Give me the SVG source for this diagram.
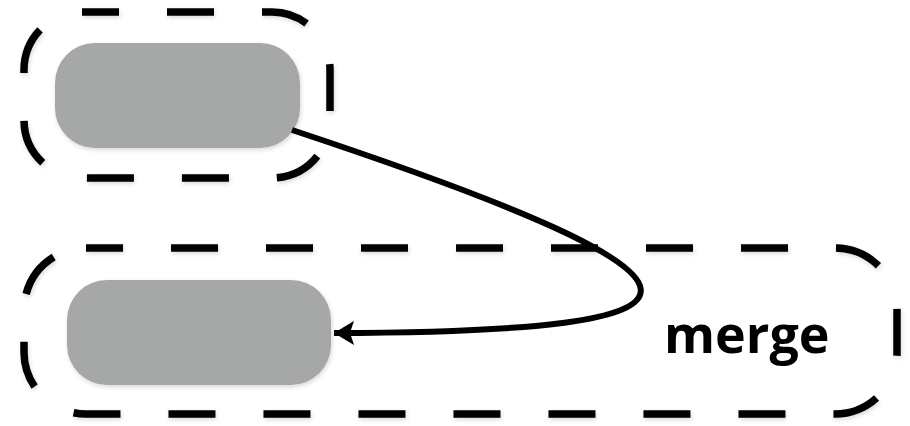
<svg xmlns="http://www.w3.org/2000/svg" width="910" height="426" viewBox="0 0 910 426">
<style>
.grp{fill:none;stroke:#000;stroke-width:7.5;stroke-dasharray:47 48}
.node{fill:#a5a8a6}
.conn{fill:none;stroke:#000;stroke-width:6}
.lbl{font-family:"Open Sans","Liberation Sans",sans-serif;font-weight:bold;font-size:52px;fill:#000}
</style>
<defs>
<marker id="arr" markerWidth="22" markerHeight="24" refX="20" refY="12" orient="auto" markerUnits="userSpaceOnUse">
<path d="M0,0 L20,12 L0,24 L4,12 Z" fill="#000"/>
</marker>
<filter id="sh" x="-10%" y="-10%" width="120%" height="130%">
<feDropShadow dx="1" dy="2" stdDeviation="2" flood-color="#000" flood-opacity="0.15"/>
</filter>
</defs>
<g id="group-top">
<rect class="grp" x="24" y="12" width="306" height="166" rx="58" ry="58" stroke-dashoffset="10" filter="url(#sh)"/>
</g>
<g id="group-merge">
<rect class="grp" x="24" y="248" width="873" height="166" rx="62" ry="62" stroke-dashoffset="10" filter="url(#sh)"/>
<text class="lbl" x="664" y="353">merge</text>
</g>
<g id="node-top">
<rect class="node" x="55" y="43" width="245" height="105" rx="40" ry="40" filter="url(#sh)"/>
</g>
<g id="node-bottom">
<rect class="node" x="67" y="280" width="264" height="105" rx="40" ry="40" filter="url(#sh)"/>
</g>
<g id="connectors">
<path class="conn" d="M292,130 C760,285 740,332 334,333" marker-end="url(#arr)"/>
</g>
</svg>
